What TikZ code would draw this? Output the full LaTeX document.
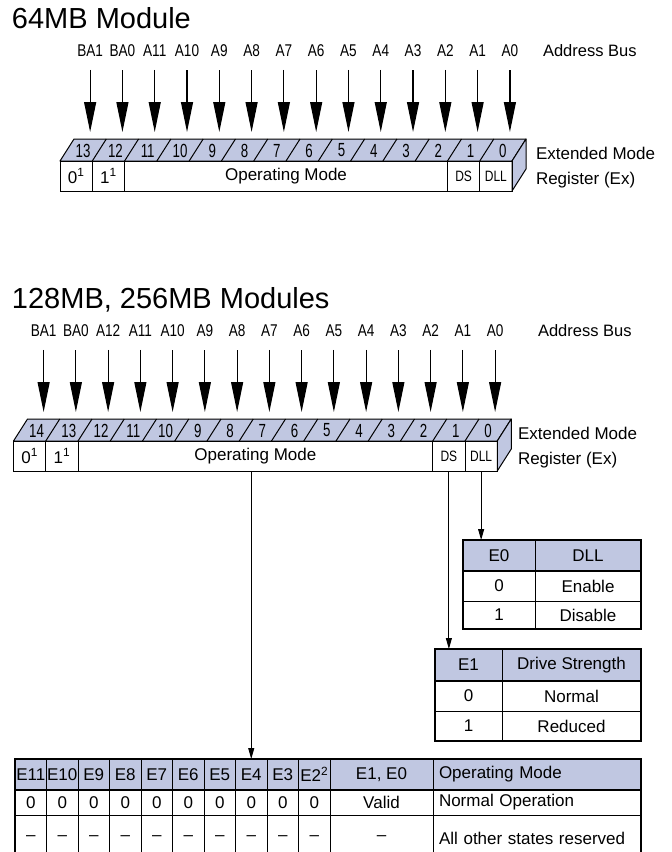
\documentclass[tikz,border=0pt]{standalone}
\usepackage{fontspec}
\setmainfont{Liberation Sans}
\newfontfamily\condfont[FakeStretch=0.8]{Liberation Sans}
\newfontfamily\narrowfont[FakeStretch=0.7]{Liberation Sans}
\usetikzlibrary{shapes}
\usetikzlibrary{arrows.meta}
\definecolor{regblue}{RGB}{192,199,225}

\begin{document}
\begin{tikzpicture}[x=1pt,y=-1pt]
			\tikzstyle{every node}=[inner sep=0pt,outer sep=0pt,font=\fontsize{17}{17}\selectfont]
			\tikzstyle{heading}=[anchor=base west,font=\fontsize{29}{29}\selectfont]
			\tikzstyle{bus}=[font=\condfont\fontsize{17}{17}\selectfont]
			\tikzstyle{busname}=[anchor=west,font=\fontsize{16.5}{16.5}\selectfont]
			\tikzstyle{bitno}=[font=\narrowfont\fontsize{19}{19}\selectfont]
			\tikzstyle{dsfont}=[font=\condfont\fontsize{15}{15}\selectfont]
			\tikzstyle{regname}=[anchor=west,align=left,font=\fontsize{17}{25}\selectfont]
			\tikzstyle{busarrow}=[line width=1.2pt,-{Triangle[length=30pt,width=12pt]},shorten <=13pt]
			\tikzstyle{droparrow}=[line width=0.9pt,-{Triangle[length=11pt,width=6pt]}]
			\tikzstyle{regface}=[draw,fill=regblue,line width=1pt,line join=round]
			\tikzstyle{cell}=[draw,line width=1pt,anchor=north west,minimum height=30pt]
			\tikzstyle{tcell}=[draw,line width=0.8pt,anchor=north west]
			\tikzstyle{hcell}=[tcell,fill=regblue]
			\tikzstyle{lcell}=[tcell,text width=196pt,inner xsep=6pt,align=left]
			\tikzstyle{tabedge}=[line width=1.6pt]
			
			\useasboundingbox (0,0) rectangle (672,852);
			\clip (0,0) rectangle (672,852);
			
			\node[heading] (t64) at (12,28) {64MB Module};
			\foreach \lab [count=\i from 0] in {BA1,BA0,A11,A10,A9,A8,A7,A6,A5,A4,A3,A2,A1,A0} {
				\node[bus] (u\i) at (60+32.29*\i+30.14,51) {\lab};
				\coordinate (ut\i) at (60+32.29*\i+30.14,132);
				\draw[busarrow] (u\i) -- (ut\i);
			}
			\node[busname] (ubus) at (543,51) {Address Bus};
			\draw[regface] (60,161) -- (74,139) -- (526,139) -- (512,161) -- cycle;
			\draw[regface] (512,161) -- (526,139) -- (526,169) -- (512,191) -- cycle;
			\foreach \i in {1,...,13} \draw[line width=1pt] (60+32.29*\i,161) -- ++(14,-22);
			\foreach \b [count=\i from 0] in {13,12,...,0} \node[bitno] (ub\b) at (60+32.29*\i+23.14,150.5) {\b};
			\node[cell,minimum width=32.29pt] (uz) at (60,161) {0\textsuperscript{1}};
			\node[cell,minimum width=32.29pt] (uo) at (uz.north east) {1\textsuperscript{1}};
			\node[cell,minimum width=322.9pt] (uop) at (uo.north east) {Operating Mode};
			\node[cell,dsfont,minimum width=32.29pt] (uds) at (uop.north east) {DS};
			\node[cell,dsfont,minimum width=32.29pt] (udll) at (uds.north east) {DLL};
			\node[regname] (uext) at (536,167.5) {Extended Mode\\Register (Ex)};
			
			\node[heading] (t128) at (12,308) {128MB, 256MB Modules};
			\foreach \lab [count=\i from 0] in {BA1,BA0,A12,A11,A10,A9,A8,A7,A6,A5,A4,A3,A2,A1,A0} {
				\node[bus] (l\i) at (13.5+32.25*\i+30.12,331) {\lab};
				\coordinate (lt\i) at (13.5+32.25*\i+30.12,412);
				\draw[busarrow] (l\i) -- (lt\i);
			}
			\node[busname] (lbus) at (538,331) {Address Bus};
			\draw[regface] (13.5,441) -- (27.5,419) -- (511.25,419) -- (497.25,441) -- cycle;
			\draw[regface] (497.25,441) -- (511.25,419) -- (511.25,449) -- (497.25,471) -- cycle;
			\foreach \i in {1,...,14} \draw[line width=1pt] (13.5+32.25*\i,441) -- ++(14,-22);
			\foreach \b [count=\i from 0] in {14,13,...,0} \node[bitno] (lb\b) at (13.5+32.25*\i+23.12,430.5) {\b};
			\node[cell,minimum width=32.25pt] (lz) at (13.5,441) {0\textsuperscript{1}};
			\node[cell,minimum width=32.25pt] (lo) at (lz.north east) {1\textsuperscript{1}};
			\node[cell,minimum width=354.75pt] (lop) at (lo.north east) {Operating Mode};
			\node[cell,dsfont,minimum width=32.25pt] (lds) at (lop.north east) {DS};
			\node[cell,dsfont,minimum width=32.25pt] (ldll) at (lds.north east) {DLL};
			\node[regname] (lext) at (518,447.5) {Extended Mode\\Register (Ex)};
			
			\node[hcell,minimum width=72pt,minimum height=31pt] (e0h) at (463,540) {E0};
			\node[hcell,minimum width=106pt,minimum height=31pt] (dllh) at (e0h.north east) {DLL};
			\node[tcell,minimum width=72pt,minimum height=30pt] (e0a) at (e0h.south west) {0};
			\node[tcell,minimum width=106pt,minimum height=30pt] (dlla) at (e0a.north east) {Enable};
			\node[tcell,minimum width=72pt,minimum height=28pt] (e0b) at (e0a.south west) {1};
			\node[tcell,minimum width=106pt,minimum height=28pt] (dllb) at (e0b.north east) {Disable};
			\draw[tabedge] (e0h.north west) rectangle (dllb.south east);
			\draw[tabedge] (e0h.south west) -- (dllh.south east);
			
			\node[hcell,minimum width=67pt,minimum height=32pt] (e1h) at (435,649) {E1};
			\node[hcell,minimum width=139pt,minimum height=32pt] (dsh) at (e1h.north east) {Drive Strength};
			\node[tcell,minimum width=67pt,minimum height=30pt] (e1a) at (e1h.south west) {0};
			\node[tcell,minimum width=139pt,minimum height=30pt] (dsa) at (e1a.north east) {Normal};
			\node[tcell,minimum width=67pt,minimum height=30pt] (e1b) at (e1a.south west) {1};
			\node[tcell,minimum width=139pt,minimum height=30pt] (dsb) at (e1b.north east) {Reduced};
			\draw[tabedge] (e1h.north west) rectangle (dsb.south east);
			\draw[tabedge] (e1h.south west) -- (dsh.south east);
			
			\foreach \h [count=\i from 0] in {E11,E10,E9,E8,E7,E6,E5,E4,E3,E2\textsuperscript{2}}
				\node[hcell,minimum width=31.5pt,minimum height=31pt] (h\i) at (15+31.5*\i,759) {\h};
			\node[hcell,minimum width=103pt,minimum height=31pt] (h10) at (h9.north east) {E1, E0};
			\node[hcell,lcell,minimum height=31pt] (h11) at (h10.north east) {Operating Mode};
			\foreach \i in {0,...,9}
				\node[tcell,minimum width=31.5pt,minimum height=25pt] (r\i) at (15+31.5*\i,790) {0};
			\node[tcell,minimum width=103pt,minimum height=25pt] (r10) at (r9.north east) {Valid};
			\node[lcell,minimum height=25pt] (r11) at (r10.north east) {Normal Operation};
			\foreach \i in {0,...,9}
				\node[tcell,minimum width=31.5pt,minimum height=46pt] (s\i) at (15+31.5*\i,815) {--};
			\node[tcell,minimum width=103pt,minimum height=46pt] (s10) at (s9.north east) {--};
			\node[lcell,minimum height=46pt] (s11) at (s10.north east) {All other states reserved};
			\draw[tabedge] (s0.south west) -- (h0.north west) -- (h11.north east) -- (s11.south east);
			\draw[tabedge] (h0.south west) -- (h11.south east);
			
			\draw[droparrow] (ldll.south) -- (ldll.south |- e0h.north);
			\draw[droparrow] (lds.south) -- (lds.south |- e1h.north);
			\draw[droparrow] (h7.north |- lop.south) -- (h7.north);
			
			;\end{tikzpicture}
\end{document}
